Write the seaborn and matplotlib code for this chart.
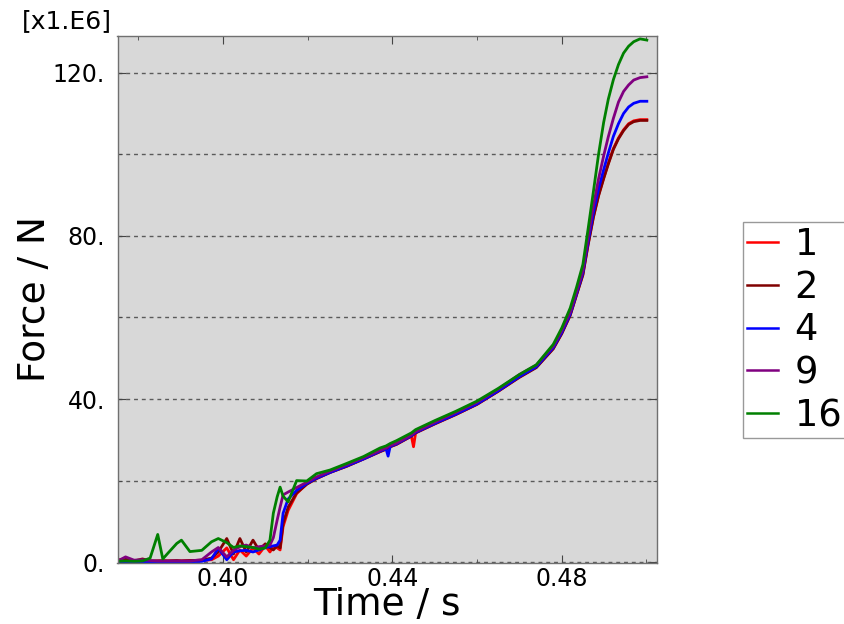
import numpy as np
import pandas as pd
import matplotlib
matplotlib.use("Agg")
import matplotlib.pyplot as plt
import seaborn as sns
from matplotlib.ticker import FixedLocator, FuncFormatter

# ---- data (Force in units of 1e6 N) ----
time_s = [0.3752, 0.3770, 0.3790, 0.3810, 0.3828, 0.3846, 0.3858, 0.3870, 0.3891, 0.3902,
          0.3922, 0.3950, 0.3973, 0.3989, 0.4009, 0.4025, 0.4040, 0.4055, 0.4071, 0.4085,
          0.4100, 0.4111, 0.4119, 0.4128, 0.4135, 0.4142, 0.4154, 0.4174, 0.4198, 0.4221,
          0.4253, 0.4292, 0.4332, 0.4371, 0.4385, 0.4390, 0.4395, 0.4410, 0.4445, 0.4450,
          0.4455, 0.4500, 0.4550, 0.4600, 0.4650, 0.4700, 0.4740, 0.4780, 0.4800, 0.4820,
          0.4835, 0.4850, 0.4862, 0.4875, 0.4887, 0.4899, 0.4910, 0.4922, 0.4934, 0.4946,
          0.4958, 0.4970, 0.4985, 0.5001]

force_1 = [0.1, 0.2, 0.2, 0.3, 0.2, 0.3, 0.2, 0.3, 0.3, 0.3,
           0.4, 0.4, 0.6, 1.5, 3.5, 0.6, 3.0, 1.5, 3.5, 2.0,
           4.0, 2.5, 3.8, 3.5, 3.0, 8.7, 12.7, 16.8, 19.2, 20.5,
           22.0, 23.5, 25.3, 27.1, 27.7, 28.0, 28.3, 28.9, 30.9, 28.3,
           31.7, 33.9, 36.2, 38.7, 41.9, 45.4, 47.8, 52.4, 56.1, 60.6,
           65.6, 70.6, 77.8, 84.8, 90.0, 94.2, 97.8, 101.4, 104.0, 106.0,
           107.5, 108.2, 108.5, 108.5]

force_2 = [0.5, 0.9, 0.3, 0.8, 0.3, 0.3, 0.4, 0.3, 0.4, 0.3,
           0.4, 0.5, 1.0, 2.5, 5.8, 2.0, 5.8, 2.5, 5.4, 3.0,
           4.5, 3.5, 3.0, 4.0, 3.5, 9.5, 13.5, 17.0, 19.1, 20.5,
           22.0, 23.5, 25.3, 27.1, 27.7, 28.0, 28.3, 28.9, 30.9, 31.3,
           31.7, 33.9, 36.2, 38.7, 41.9, 45.3, 47.7, 52.3, 56.0, 60.5,
           65.5, 70.4, 77.6, 84.6, 89.8, 94.0, 97.6, 101.2, 103.8, 105.8,
           107.3, 108.0, 108.3, 108.3]

force_4 = [0.0, 0.0, 0.0, 0.0, 0.0, 0.1, 0.0, 0.1, 0.1, 0.1,
           0.1, 0.2, 0.8, 3.4, 0.6, 2.5, 2.8, 2.9, 2.5, 3.0,
           3.6, 3.8, 4.0, 4.2, 5.4, 12.0, 15.5, 17.6, 19.3, 20.6,
           22.0, 23.6, 25.3, 27.2, 27.8, 26.0, 28.4, 29.0, 31.0, 31.4,
           31.8, 34.0, 36.3, 38.8, 42.0, 45.5, 47.9, 52.6, 56.3, 60.8,
           65.8, 71.0, 78.4, 85.8, 91.5, 96.2, 100.3, 104.4, 107.5, 110.0,
           111.6, 112.5, 113.0, 113.0]

force_9 = [0.3, 1.3, 0.5, 0.6, 0.4, 0.3, 0.3, 0.3, 0.3, 0.3,
           0.3, 0.6, 2.5, 3.6, 1.3, 2.9, 3.8, 4.2, 3.5, 3.8,
           4.0, 4.2, 6.0, 10.3, 13.5, 16.5, 17.2, 18.3, 19.6, 20.9,
           22.3, 23.9, 25.6, 27.4, 28.0, 28.3, 28.6, 29.2, 31.2, 31.6,
           32.0, 34.3, 36.7, 39.2, 42.4, 46.0, 48.3, 53.0, 56.8, 61.3,
           66.3, 71.6, 79.4, 87.4, 94.0, 99.6, 104.3, 108.8, 112.8, 115.4,
           117.0, 118.2, 118.8, 119.0]

force_16 = [0.2, 0.3, 0.2, 0.3, 1.0, 6.8, 0.8, 2.2, 4.6, 5.4,
            2.6, 2.9, 5.0, 5.8, 4.8, 3.6, 4.0, 3.8, 3.6, 3.2,
            3.5, 5.4, 12.0, 16.0, 18.4, 16.2, 14.8, 20.0, 19.9, 21.7,
            22.6, 24.2, 25.9, 28.0, 28.5, 28.8, 29.1, 29.8, 31.7, 32.1,
            32.5, 34.7, 37.0, 39.5, 42.6, 46.0, 48.4, 53.4, 57.4, 62.3,
            67.4, 73.0, 81.5, 91.0, 100.0, 107.8, 113.5, 118.3, 122.0, 124.8,
            126.5, 127.6, 128.3, 128.0]

series_names = ["1", "2", "4", "9", "16"]
series_colors = ["#ff0000", "#800000", "#0000ff", "#800080", "#008000"]
series_values = [force_1, force_2, force_4, force_9, force_16]

y_ticks = [0, 40, 80, 120]
y_minor = [20, 60, 100]
x_ticks = [0.40, 0.44, 0.48]
x_minor = [0.38, 0.42, 0.46, 0.50]

frames = []
for name, vals in zip(series_names, series_values):
    frames.append(pd.DataFrame({"Time": time_s, "Force": vals, "case": name}))
df = pd.concat(frames, ignore_index=True)

# ---- figure ----
plt.rcParams["font.family"] = ["DejaVu Sans"]
fig = plt.figure(figsize=(8.44, 6.24), dpi=100)
ax = fig.add_axes([117.5 / 844, 1 - 563 / 624, (657 - 117.5) / 844, (563 - 36) / 624])
ax.set_facecolor("#d8d8d8")

sns.lineplot(data=df, x="Time", y="Force", hue="case", hue_order=series_names,
             palette=dict(zip(series_names, series_colors)), estimator=None,
             sort=False, lw=2.0, ax=ax)

ax.set_xlim(0.3751, 0.5025)
ax.set_ylim(-0.2, 129.0)

for v in y_ticks + y_minor:
    ax.axhline(v, color="#5a5a5a", lw=1.0, dashes=(2.8, 2.8), zorder=0.5)

ax.xaxis.set_major_locator(FixedLocator(x_ticks))
ax.xaxis.set_minor_locator(FixedLocator(x_minor))
ax.yaxis.set_major_locator(FixedLocator(y_ticks))
ax.yaxis.set_minor_locator(FixedLocator(y_minor))
ax.xaxis.set_major_formatter(FuncFormatter(lambda v, p: f"{v:.2f}"))
ax.yaxis.set_major_formatter(FuncFormatter(lambda v, p: f"{int(round(v))}."))
ax.tick_params(axis="both", which="both", direction="in", top=True, right=True,
               color="#444444")
ax.tick_params(axis="both", which="major", length=6, labelsize=17)
ax.tick_params(axis="both", which="minor", length=3)
ax.tick_params(axis="x", which="major", pad=3)
ax.tick_params(axis="y", which="major", pad=9)

for s in ax.spines.values():
    s.set_color("#707070")
    s.set_linewidth(1.0)

ax.set_xlabel("Time / s", fontsize=27, va="center")
ax.xaxis.set_label_coords(0.5, -0.079)
ax.set_ylabel("Force / N", fontsize=27, va="center")
ax.yaxis.set_label_coords(-0.152, 0.5)

fig.text(22 / 844, 1 - 21 / 624, "[x1.E6]", fontsize=18, ha="left", va="center")

handles, labels = ax.get_legend_handles_labels()
leg = ax.legend(handles, labels, loc="upper left",
                bbox_to_anchor=(743 / 844, 1 - 222 / 624), bbox_transform=fig.transFigure,
                borderaxespad=0, fontsize=26.5, labelspacing=0.16, borderpad=0.1,
                handlelength=0.85, handletextpad=0.45, fancybox=False, frameon=True)
leg.get_frame().set_edgecolor("#808080")
leg.get_frame().set_linewidth(1.0)
for line in leg.get_lines():
    line.set_linewidth(1.8)

fig.savefig("out.png", dpi=100, facecolor="white")
